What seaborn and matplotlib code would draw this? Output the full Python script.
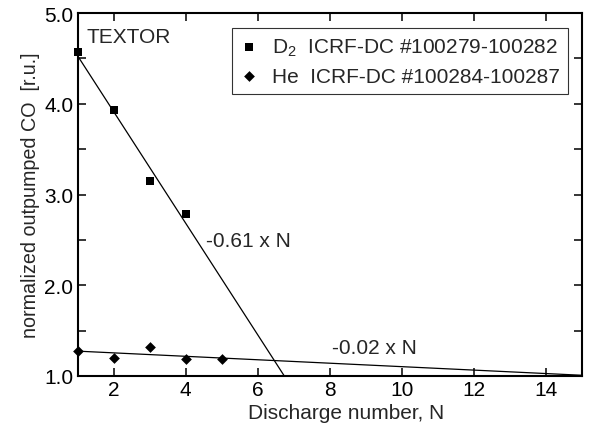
import numpy as np
import pandas as pd
import matplotlib
matplotlib.use("Agg")
import matplotlib.pyplot as plt
import seaborn as sns
from matplotlib.ticker import MultipleLocator, FuncFormatter

# data
d2_x = [1, 2, 3, 4]
d2_y = [4.57, 3.93, 3.15, 2.78]
he_x = [1, 2, 3, 4, 5]
he_y = [1.28, 1.20, 1.32, 1.19, 1.19]
d2_label = "D$_2$  ICRF-DC #100279-100282"
he_label = "He  ICRF-DC #100284-100287"
d2_fit_x_end = 6.74
he_fit_x_end = 15
x_ticks = [2, 4, 6, 8, 10, 12, 14]

sns.set_theme(style="ticks")
plt.rcParams['font.family'] = ['Liberation Sans', 'DejaVu Sans']
plt.rcParams['mathtext.fontset'] = 'custom'
plt.rcParams['mathtext.rm'] = 'Liberation Sans'
plt.rcParams['mathtext.it'] = 'Liberation Sans'
plt.rcParams['mathtext.default'] = 'regular'

FS = 15

fig = plt.figure(figsize=(5.89, 4.27), dpi=100)
ax = fig.add_axes([0.1316, 0.1171, 0.988 - 0.1316, 0.9672 - 0.1171])

# linear fits
p_d2 = np.polyfit(d2_x, d2_y, 1)
p_he = np.polyfit(he_x, he_y, 1)
fx_d2 = np.array([d2_x[0], d2_fit_x_end])
fx_he = np.array([he_x[0], he_fit_x_end])
fit_df = pd.DataFrame({
    "x": np.concatenate([fx_d2, fx_he]),
    "y": np.concatenate([np.polyval(p_d2, fx_d2), np.polyval(p_he, fx_he)]),
    "s": ["d2", "d2", "he", "he"],
})
sns.lineplot(data=fit_df, x="x", y="y", units="s", estimator=None,
             color="black", lw=0.9, ax=ax, legend=False)

d2_df = pd.DataFrame({"x": d2_x, "y": d2_y})
he_df = pd.DataFrame({"x": he_x, "y": he_y})
sns.scatterplot(data=d2_df, x="x", y="y", marker="s", s=36, color="black",
                edgecolor="black", linewidth=0, ax=ax, label=d2_label, zorder=5,
                clip_on=False)
sns.scatterplot(data=he_df, x="x", y="y", marker="D", s=30, color="black",
                edgecolor="black", linewidth=0, ax=ax, label=he_label, zorder=5,
                clip_on=False)

ax.set_xlim(1, 15)
ax.set_ylim(1.0, 5.0)
ax.set_xticks(x_ticks)
ax.yaxis.set_major_locator(MultipleLocator(0.5))
ax.yaxis.set_major_formatter(FuncFormatter(lambda v, p: f"{v:.1f}" if abs(v - round(v)) < 1e-6 else ""))
ax.tick_params(direction="in", length=6, width=1.1, top=True, right=True,
               labelsize=FS, colors="black", pad=3)
for sp in ax.spines.values():
    sp.set_visible(True)
    sp.set_linewidth(1.5)
    sp.set_color("black")

ax.set_xlabel("Discharge number, N", fontsize=FS, labelpad=4)
ax.xaxis.set_label_coords(0.532, -0.075)
ax.xaxis.label.set_va("top")
ax.set_ylabel("normalized outpumped CO  [r.u.]", fontsize=14.2, labelpad=3)

ax.text(0.017, 0.92, "TEXTOR", transform=ax.transAxes, fontsize=FS,
        va="baseline", ha="left")
ax.text(4.58, 2.43, "-0.61 x N", fontsize=FS, ha="left", va="baseline")
ax.text(8.05, 1.253, "-0.02 x N", fontsize=FS, ha="left", va="baseline")

leg = ax.legend(loc="upper right", bbox_to_anchor=(0.972, 0.9587), fontsize=FS,
                frameon=True, fancybox=False, edgecolor="black",
                handletextpad=0.7, borderpad=0.4, labelspacing=0.43,
                handlelength=0.8, borderaxespad=0)
leg.get_frame().set_linewidth(0.8)

fig.savefig("out.png", dpi=100, facecolor="white")
